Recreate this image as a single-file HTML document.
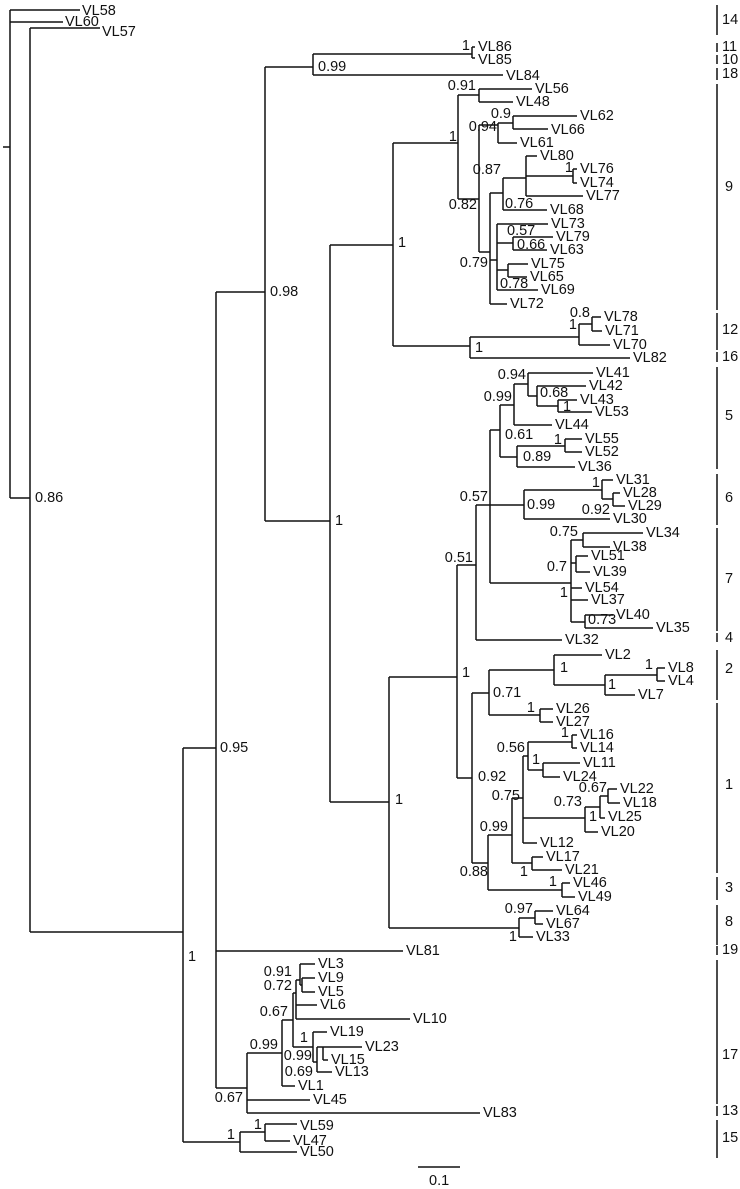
<!DOCTYPE html>
<html><head><meta charset="utf-8"><style>
html,body{margin:0;padding:0;background:#fff}
svg{display:block}
text{font-family:"Liberation Sans",Arial,sans-serif;font-size:14.5px;fill:#111;dominant-baseline:central}
.e{text-anchor:end}
</style></head><body>
<svg width="740" height="1189" viewBox="0 0 740 1189" xmlns="http://www.w3.org/2000/svg">
<g fill="none" stroke="#111" stroke-width="1.5">
<path d="M3 147H10 M10 10V498 M10 10H80 M10 22H63 M10 498H30 M30 28V932 M30 28H100
M30 932H183 M183 748V1142 M183 748H216 M216 292V1088 M216 292H265 M265 67V521
M265 67H313 M313 54V75 M313 54H472 M472 47V58 M472 47H475 M472 58H475 M313 75H503
M265 521H330 M330 245V802 M330 245H393 M393 143V346
M393 143H458 M458 95V199 M458 95H479 M479 89V102 M479 89H532 M479 102H513
M458 199H479 M479 125V252
M479 125H498 M498 123V143 M498 123H513 M513 116V129 M513 116H577 M513 129H548 M498 143H517
M479 252H490 M490 193V304 M490 193H503 M503 178V210 M503 178H526 M526 156V196 M526 156H537 M526 176H573 M573 169V183 M573 169H577 M573 183H577 M526 196H583 M503 210H547
M490 260H497 M497 224V290 M497 224H548 M497 243H513 M513 237V250 M513 237H553 M513 250H547 M497 270H508 M508 264V277 M508 264H528 M508 277H527 M497 290H538 M490 304H507
M393 346H470 M470 337V358 M470 337H579 M579 324V345 M579 324H592 M592 317V331 M592 317H601 M592 331H602 M579 345H610 M470 358H630
M330 802H389 M389 677V928 M389 928H519 M519 918V937 M519 918H535 M535 911V924 M535 911H553 M535 924H543 M519 937H533
M389 677H457 M457 565V778 M457 565H476 M476 505V640 M476 505H490 M490 430V583 M490 430H500 M500 405V457 M500 405H514 M514 384V425 M514 384H528 M528 373V396 M528 373H593 M528 396H537 M537 386V406 M537 386H586 M537 406H558 M558 400V412 M558 400H577 M558 412H592 M514 425H552 M500 457H517 M517 446V467 M517 446H565 M565 439V452 M565 439H582 M565 452H582 M517 467H575
M490 505H524 M524 490V519 M524 490H602 M602 480V499 M602 480H613 M602 499H613 M613 493V506 M613 493H620 M613 506H625 M524 519H610
M490 583H571 M571 540V622 M571 540H583 M583 533V547 M583 533H643 M583 547H610 M571 563H576 M576 556V572 M576 556H588 M576 572H590 M571 588H582 M571 600H588 M571 622H585 M585 615V628 M585 615H613 M585 628H653
M476 640H562
M457 778H472 M472 693V863 M472 693H489 M489 670V715 M489 670H554 M554 655V685 M554 655H602 M554 685H605 M605 675V695 M605 675H657 M657 668V681 M657 668H665 M657 681H665 M605 695H635 M489 715H540 M540 709V722 M540 709H553 M540 722H553
M472 863H488 M488 835V890 M488 835H512 M512 798V863 M512 798H523 M523 756V843 M523 756H528 M528 742V770 M528 742H572 M572 735V748 M572 735H577 M572 748H577 M528 770H543 M543 763V777 M543 763H580 M543 777H560 M523 818H585 M585 807V832 M585 807H600 M600 796V818 M600 796H608 M608 789V803 M608 789H617 M608 803H620 M600 818H605 M585 832H598 M523 843H537 M512 863H532 M532 857V870 M532 857H543 M532 870H562 M488 890H562 M562 883V897 M562 883H570 M562 897H575
M216 951H403 M216 1088H247 M247 1053V1113 M247 1053H282 M282 1020V1086 M282 1020H293 M293 993V1047 M293 993H296 M296 980V1019 M296 980H300 M300 964V985 M300 964H315 M300 985H302 M302 978V992 M302 978H315 M302 992H315 M296 1005H317 M296 1019H410 M293 1047H313 M313 1032V1062 M313 1032H327 M313 1062H317 M317 1047V1072 M317 1047H323 M323 1047V1060 M323 1047H362 M323 1060H328 M317 1072H332 M282 1086H295 M247 1100H310 M247 1113H480
M183 1142H240 M240 1132V1152 M240 1132H265 M265 1124V1141 M265 1124H297 M265 1141H290 M240 1152H297
M418 1167H460"/>
</g>
<g stroke="#111" stroke-width="1.5">
<line x1="717" y1="5" x2="717" y2="35"/><line x1="717" y1="43" x2="717" y2="52"/><line x1="717" y1="55" x2="717" y2="64"/><line x1="717" y1="68" x2="717" y2="80"/>
<line x1="717" y1="84" x2="717" y2="310"/><line x1="717" y1="313" x2="717" y2="350"/><line x1="717" y1="352" x2="717" y2="362"/>
<line x1="717" y1="367" x2="717" y2="469"/><line x1="717" y1="474" x2="717" y2="525"/><line x1="717" y1="528" x2="717" y2="631"/>
<line x1="717" y1="633" x2="717" y2="642"/><line x1="717" y1="650" x2="717" y2="700"/><line x1="717" y1="703" x2="717" y2="873"/>
<line x1="717" y1="877" x2="717" y2="900"/><line x1="717" y1="905" x2="717" y2="945"/><line x1="717" y1="946" x2="717" y2="955"/>
<line x1="717" y1="960" x2="717" y2="1104"/><line x1="717" y1="1106" x2="717" y2="1116"/><line x1="717" y1="1120" x2="717" y2="1158"/>
</g>
<g>
<text x="722" y="20">14</text><text x="722" y="47">11</text><text x="722" y="60">10</text><text x="722" y="74">18</text>
<text x="725" y="187">9</text><text x="722" y="330">12</text><text x="722" y="357">16</text><text x="725" y="416">5</text>
<text x="725" y="498">6</text><text x="725" y="579">7</text><text x="725" y="638">4</text><text x="725" y="669">2</text>
<text x="725" y="785">1</text><text x="725" y="888">3</text><text x="725" y="922">8</text><text x="722" y="950">19</text>
<text x="722" y="1055">17</text><text x="722" y="1111">13</text><text x="722" y="1138">15</text>
<text x="429" y="1181">0.1</text>
</g>
<g>
<text x="82" y="11">VL58</text><text x="65" y="22">VL60</text><text x="102" y="32">VL57</text>
<text x="478" y="47">VL86</text><text x="478" y="60">VL85</text><text x="506" y="76">VL84</text>
<text x="535" y="89">VL56</text><text x="516" y="102">VL48</text><text x="580" y="116">VL62</text><text x="551" y="130">VL66</text><text x="520" y="143">VL61</text>
<text x="540" y="156">VL80</text><text x="580" y="169">VL76</text><text x="580" y="183">VL74</text><text x="586" y="196">VL77</text><text x="550" y="210">VL68</text>
<text x="551" y="224">VL73</text><text x="556" y="237">VL79</text><text x="550" y="250">VL63</text><text x="531" y="264">VL75</text><text x="530" y="277">VL65</text><text x="541" y="290">VL69</text><text x="510" y="304">VL72</text>
<text x="604" y="317">VL78</text><text x="605" y="331">VL71</text><text x="613" y="345">VL70</text><text x="633" y="358">VL82</text>
<text x="596" y="373">VL41</text><text x="589" y="386">VL42</text><text x="580" y="400">VL43</text><text x="595" y="412">VL53</text><text x="555" y="425">VL44</text>
<text x="585" y="439">VL55</text><text x="585" y="452">VL52</text><text x="578" y="467">VL36</text>
<text x="616" y="480">VL31</text><text x="623" y="493">VL28</text><text x="628" y="506">VL29</text><text x="613" y="519">VL30</text>
<text x="646" y="533">VL34</text><text x="613" y="547">VL38</text><text x="591" y="556">VL51</text><text x="593" y="572">VL39</text><text x="585" y="588">VL54</text><text x="591" y="600">VL37</text><text x="616" y="615">VL40</text><text x="656" y="628">VL35</text>
<text x="565" y="640">VL32</text><text x="605" y="655">VL2</text><text x="668" y="668">VL8</text><text x="668" y="681">VL4</text><text x="638" y="695">VL7</text>
<text x="556" y="709">VL26</text><text x="556" y="722">VL27</text><text x="580" y="735">VL16</text><text x="580" y="748">VL14</text><text x="583" y="763">VL11</text><text x="563" y="777">VL24</text>
<text x="620" y="789">VL22</text><text x="623" y="803">VL18</text><text x="608" y="817">VL25</text><text x="601" y="832">VL20</text><text x="540" y="843">VL12</text><text x="546" y="857">VL17</text><text x="565" y="870">VL21</text>
<text x="573" y="883">VL46</text><text x="578" y="897">VL49</text><text x="556" y="911">VL64</text><text x="546" y="924">VL67</text><text x="536" y="937">VL33</text>
<text x="406" y="951">VL81</text><text x="318" y="964">VL3</text><text x="318" y="978">VL9</text><text x="318" y="992">VL5</text><text x="320" y="1005">VL6</text><text x="413" y="1019">VL10</text>
<text x="330" y="1032">VL19</text><text x="365" y="1047">VL23</text><text x="331" y="1060">VL15</text><text x="335" y="1072">VL13</text><text x="298" y="1086">VL1</text><text x="313" y="1100">VL45</text><text x="483" y="1113">VL83</text>
<text x="300" y="1126">VL59</text><text x="293" y="1141">VL47</text><text x="300" y="1152">VL50</text>
</g>
<g>
<text x="35" y="498">0.86</text><text x="220" y="748">0.95</text><text x="270" y="292">0.98</text><text x="318" y="67">0.99</text>
<text x="335" y="521">1</text><text x="395" y="800">1</text><text x="188" y="957">1</text>
<text x="470" y="46" class="e">1</text><text x="476" y="86" class="e">0.91</text><text x="457" y="137" class="e">1</text>
<text x="511" y="114" class="e">0.9</text><text x="497" y="127" class="e">0.94</text><text x="477" y="205" class="e">0.82</text>
<text x="501" y="170" class="e">0.87</text><text x="573" y="168" class="e">1</text><text x="505" y="204">0.76</text>
<text x="507" y="231">0.57</text><text x="517" y="245">0.66</text><text x="500" y="284">0.78</text><text x="488" y="263" class="e">0.79</text>
<text x="398" y="243">1</text><text x="475" y="348">1</text><text x="590" y="313" class="e">0.8</text><text x="577" y="325" class="e">1</text>
<text x="526" y="375" class="e">0.94</text><text x="512" y="397" class="e">0.99</text><text x="540" y="393">0.68</text><text x="563" y="407">1</text>
<text x="505" y="435">0.61</text><text x="562" y="440" class="e">1</text><text x="523" y="457">0.89</text><text x="488" y="497" class="e">0.57</text>
<text x="527" y="505">0.99</text><text x="600" y="483" class="e">1</text><text x="610" y="510" class="e">0.92</text><text x="578" y="532" class="e">0.75</text>
<text x="567" y="567" class="e">0.7</text><text x="568" y="593" class="e">1</text><text x="588" y="620">0.73</text><text x="473" y="558" class="e">0.51</text>
<text x="462" y="673">1</text><text x="560" y="668">1</text><text x="653" y="665" class="e">1</text><text x="608" y="685">1</text>
<text x="493" y="693">0.71</text><text x="535" y="708" class="e">1</text><text x="569" y="733" class="e">1</text><text x="525" y="748" class="e">0.56</text>
<text x="532" y="760">1</text><text x="478" y="777">0.92</text><text x="607" y="788" class="e">0.67</text><text x="582" y="802" class="e">0.73</text>
<text x="589" y="817">1</text><text x="520" y="796" class="e">0.75</text><text x="508" y="827" class="e">0.99</text><text x="488" y="872" class="e">0.88</text>
<text x="528" y="872" class="e">1</text><text x="557" y="882" class="e">1</text><text x="533" y="909" class="e">0.97</text><text x="517" y="937" class="e">1</text>
<text x="292" y="972" class="e">0.91</text><text x="292" y="986" class="e">0.72</text><text x="288" y="1012" class="e">0.67</text><text x="278" y="1045" class="e">0.99</text>
<text x="308" y="1038" class="e">1</text><text x="312" y="1056" class="e">0.99</text><text x="313" y="1072" class="e">0.69</text><text x="243" y="1098" class="e">0.67</text>
<text x="262" y="1125" class="e">1</text><text x="235" y="1135" class="e">1</text>
</g>
</svg>
</body></html>
